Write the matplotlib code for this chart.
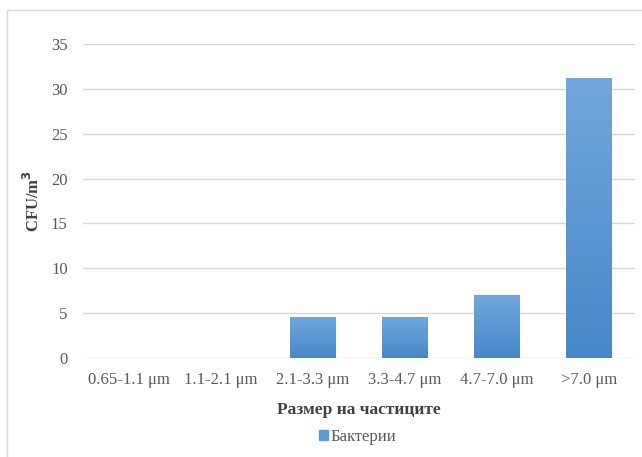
import matplotlib
matplotlib.use("Agg")
import matplotlib.pyplot as plt
import numpy as np
from matplotlib.patches import Rectangle
from matplotlib.colors import LinearSegmentedColormap

categories = ["0.65-1.1 μm", "1.1-2.1 μm", "2.1-3.3 μm", "3.3-4.7 μm", "4.7-7.0 μm", ">7.0 μm"]
values = [0, 0, 4.6, 4.6, 7.0, 31.2]
series_name = "Бактерии"
yticks = [0, 5, 10, 15, 20, 25, 30, 35]

plt.rcParams['font.family'] = ['Liberation Serif', 'DejaVu Serif']

W, H = 642, 457
fig = plt.figure(figsize=(W/100, H/100), dpi=100)
ax = fig.add_axes([83/W, 1-358/H, (635-83)/W, (358-44)/H])

x = np.arange(len(categories))
bars = ax.bar(x, values, width=0.49, color='#5B9BD5', zorder=3)
cmap = LinearSegmentedColormap.from_list('g', ['#4688C9', '#72A7DC'])
grad = np.linspace(0, 1, 256).reshape(-1, 1)
for b in bars:
    h = b.get_height()
    if h <= 0:
        continue
    x0 = b.get_x(); w = b.get_width()
    im = ax.imshow(grad, aspect='auto', cmap=cmap, origin='lower',
                   extent=[x0, x0 + w, 0, h], zorder=4)
    im.set_clip_path(b)
    b.set_facecolor('none')

ax.set_xlim(-0.5, len(categories) - 0.5)
ax.set_ylim(0, 35)
ax.set_yticks(yticks)
ax.set_xticks(x)
ax.set_xticklabels(categories)
ax.yaxis.grid(True, color='#D9D9D9', linewidth=1.0, zorder=0)
ax.set_axisbelow(True)
for s in ax.spines.values():
    s.set_visible(False)
ax.tick_params(axis='both', length=0, colors='#595959', labelsize=12)
ax.tick_params(axis='x', pad=10)
ax.tick_params(axis='y', pad=11)

ax.set_xlabel("Размер на частиците", fontsize=12.5, fontweight='bold', color='#404040', labelpad=10)
ax.set_ylabel("CFU/m$^\\mathbf{3}$", fontsize=12, fontweight='bold', color='#404040')
ax.yaxis.set_label_coords((43 - 83) / (635 - 83), 0.5)

handle = Rectangle((0, 0), 1, 1, color='#5B9BD5')
fig.legend([handle], [series_name], loc='center', bbox_to_anchor=(358/W, 1-437/H),
           frameon=False, fontsize=12, handlelength=0.55, handleheight=0.55,
           handletextpad=0.15, labelcolor='#595959')

border = Rectangle((7/W, -0.05), 1.1, 1 - 10/H + 0.05, transform=fig.transFigure,
                   fill=False, edgecolor='#D9D9D9', linewidth=1.0)
fig.add_artist(border)

fig.savefig("out.png", dpi=100)
